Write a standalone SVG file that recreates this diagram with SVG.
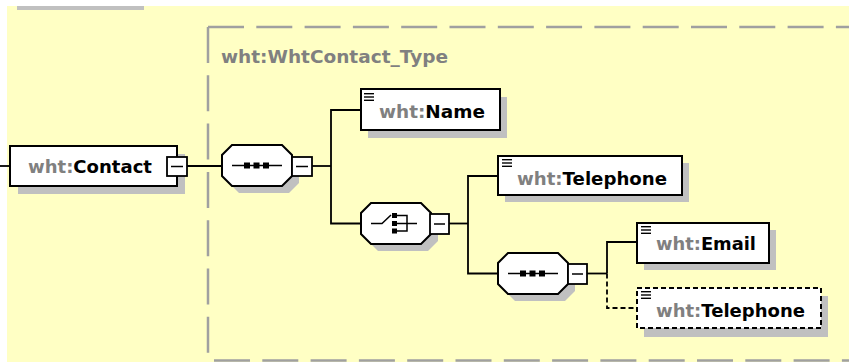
<svg xmlns="http://www.w3.org/2000/svg" width="849" height="362" viewBox="0 0 849 362">
<style>
.bg{fill:#ffffc4}
.frame{stroke:#a0a0a0;stroke-width:2.5;stroke-dasharray:36 12.3;fill:none}
.box{fill:#fff;stroke:#000;stroke-width:2}
.dbox{fill:#fff;stroke:#000;stroke-width:2;stroke-dasharray:5 3}
.sh{fill:#c0c0c0}
.btn{fill:#fff;stroke:#000;stroke-width:1.8}
.mn{stroke:#000;stroke-width:1.5}
.con{stroke:#000;stroke-width:1.8;fill:none}
.dcon{stroke:#000;stroke-width:1.8;fill:none;stroke-dasharray:5 3}
.ic{stroke:#000;stroke-width:1.4}
.t{font-family:"DejaVu Sans","Liberation Sans",sans-serif;font-weight:bold;font-size:18px}
.p{fill:#808080}
.n{fill:#000}
.title{font-family:"DejaVu Sans","Liberation Sans",sans-serif;font-weight:bold;font-size:18px;fill:#808080}
</style>
<defs>
<g id="lines"><line x1="0" y1="0.7" x2="10" y2="0.7" class="ic"/><line x1="0" y1="4" x2="10" y2="4" class="ic"/><line x1="0" y1="7.3" x2="10" y2="7.3" class="ic"/></g>
<polygon id="oct" points="10,0 60,0 70,10 70,31 60,41 10,41 0,31 0,10"/>
</defs>
<rect x="7" y="6" width="842" height="356" class="bg"/>
<rect x="17" y="6" width="127" height="4" fill="#c0c0c0"/>
<g id="type-frame">
<line x1="208" y1="27" x2="860" y2="27" class="frame"/>
<line x1="208" y1="27" x2="208" y2="362" class="frame"/>
<line x1="214" y1="360.5" x2="860" y2="360.5" class="frame"/>
<text x="221" y="63" class="title" textLength="227" lengthAdjust="spacingAndGlyphs">wht:WhtContact_Type</text>
</g>
<g id="connectors">
<path d="M0,166 H10" class="con"/>
<path d="M187,166 H222" class="con"/>
<path d="M312,166 H331" class="con"/>
<path d="M361,110 H331 V223.5 H361" class="con"/>
<path d="M449,223.5 H468" class="con"/>
<path d="M498,176 H468 V273.5 H498" class="con"/>
<path d="M587,273.5 H607" class="con"/>
<path d="M637,242 H607 V273.5" class="con"/>
<path d="M607,273.5 V308 H637" class="dcon"/>
</g>
<g id="contact">
<rect x="18" y="154" width="167" height="40" class="sh"/>
<rect x="10" y="146" width="167" height="40" class="box"/>
<text x="28" y="173" class="t" textLength="124" lengthAdjust="spacingAndGlyphs"><tspan class="p">wht:</tspan><tspan class="n">Contact</tspan></text>
<rect x="167" y="157" width="20" height="19" class="btn"/>
<line x1="171" y1="166.5" x2="183" y2="166.5" class="mn"/>
</g>
<g id="sequence1">
<use href="#oct" x="229" y="152" class="sh"/>
<use href="#oct" x="222" y="145" fill="#fff" stroke="#000" stroke-width="2"/>
<line x1="232" y1="165.5" x2="282" y2="165.5" class="mn"/>
<rect x="244" y="162.5" width="6" height="6"/><rect x="253.5" y="162.5" width="6" height="6"/><rect x="263" y="162.5" width="6" height="6"/>
<rect x="292" y="157" width="20" height="19" class="btn"/>
<line x1="296" y1="166.5" x2="308" y2="166.5" class="mn"/>
</g>
<g id="name">
<rect x="368" y="97" width="139" height="41" class="sh"/>
<rect x="361" y="89" width="139" height="41" class="box"/>
<use href="#lines" x="364" y="93"/>
<text x="379" y="118" class="t" textLength="106" lengthAdjust="spacingAndGlyphs"><tspan class="p">wht:</tspan><tspan class="n">Name</tspan></text>
</g>
<g id="choice">
<use href="#oct" x="368" y="210" class="sh"/>
<use href="#oct" x="361" y="203" fill="#fff" stroke="#000" stroke-width="2"/>
<path d="M371,223.5 H382 L391,215" class="mn" fill="none"/>
<rect x="392" y="213" width="5" height="5"/><rect x="392" y="221" width="5" height="5"/><rect x="392" y="228.5" width="5" height="5"/>
<path d="M397,215.5 H407 V231 H397 M397,223.5 H417" class="mn" fill="none"/>
<rect x="430" y="214" width="19" height="20" class="btn"/>
<line x1="434" y1="224" x2="445" y2="224" class="mn"/>
</g>
<g id="telephone1">
<rect x="505" y="163" width="184" height="39" class="sh"/>
<rect x="498" y="156" width="184" height="39" class="box"/>
<use href="#lines" x="502" y="159"/>
<text x="517" y="185" class="t" textLength="150" lengthAdjust="spacingAndGlyphs"><tspan class="p">wht:</tspan><tspan class="n">Telephone</tspan></text>
</g>
<g id="sequence2">
<use href="#oct" x="505" y="260" class="sh"/>
<use href="#oct" x="498" y="253" fill="#fff" stroke="#000" stroke-width="2"/>
<line x1="508" y1="273.5" x2="558" y2="273.5" class="mn"/>
<rect x="520" y="270.5" width="6" height="6"/><rect x="529.5" y="270.5" width="6" height="6"/><rect x="539" y="270.5" width="6" height="6"/>
<rect x="568" y="264" width="19" height="20" class="btn"/>
<line x1="572" y1="274" x2="583" y2="274" class="mn"/>
</g>
<g id="email">
<rect x="644" y="230" width="132" height="40" class="sh"/>
<rect x="637" y="223" width="132" height="40" class="box"/>
<use href="#lines" x="641" y="226"/>
<text x="656" y="250" class="t" textLength="100" lengthAdjust="spacingAndGlyphs"><tspan class="p">wht:</tspan><tspan class="n">Email</tspan></text>
</g>
<g id="telephone2">
<rect x="644" y="296" width="184" height="41" class="sh"/>
<rect x="637" y="288" width="184" height="40" class="dbox"/>
<use href="#lines" x="641" y="291"/>
<text x="656" y="317" class="t" textLength="149" lengthAdjust="spacingAndGlyphs"><tspan class="p">wht:</tspan><tspan class="n">Telephone</tspan></text>
</g>
</svg>
